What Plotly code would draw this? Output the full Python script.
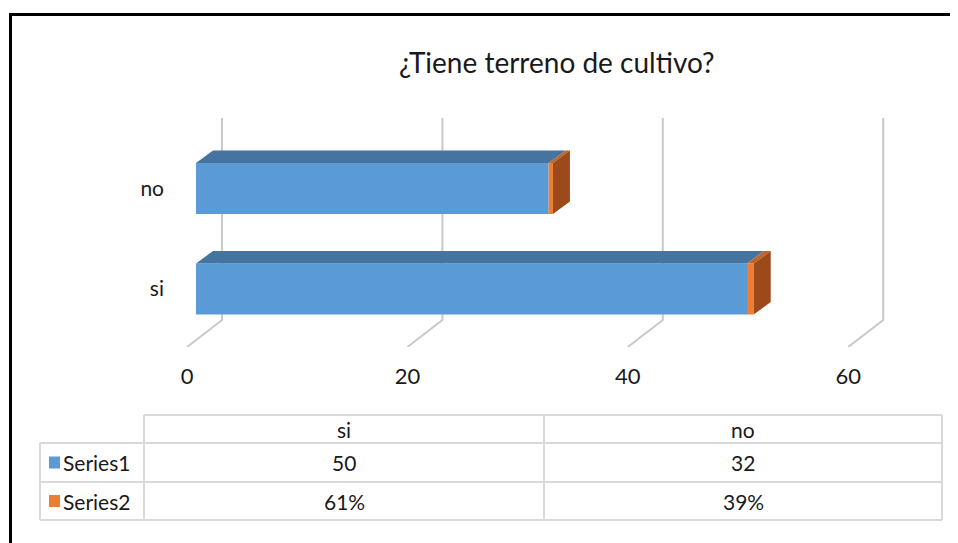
"""Excel-style 3D stacked bar chart with a data table underneath"""

import plotly.graph_objects as go

TITLE = "¿Tiene terreno de cultivo?"
CATEGORIES = ["si", "no"]
SERIES_NAMES = ["Series1", "Series2"]
SERIES1 = [50, 32]
SERIES2 = [0.61, 0.39]
X_TICKS = [0, 20, 40, 60]

W, H = 958, 543
PAGE_PAD = 8                         # default body margin of the html page
FONT = "Lato, 'Open Sans', sans-serif"
TEXT = "#1a1a1a"
GRID = "#c9c9c9"
TABLE_LINE = "#d9d9d9"
BLUE, BLUE_TOP = "#5b9bd5", "#44749f"
ORANGE, ORANGE_TOP, ORANGE_SIDE = "#ed7d31", "#c0652a", "#9c4a1b"

# plot box in pixels, and how the axes map onto it
PLOT_L, PLOT_R, PLOT_T, PLOT_B = 175, 940, 110, 347
X0_PX, PX_PER_UNIT = 187, 11.02      # floor front edge: value 0 and scale
Y0_PX, PX_PER_CAT = 289, 100.5       # centre of first category, spacing


def xv(px):
    return (px - X0_PX) / PX_PER_UNIT


def yv(py):
    return (Y0_PX - py) / PX_PER_CAT


def fx(px):
    return (px - PAGE_PAD) / W


def fy(py):
    return 1 - (py - PAGE_PAD) / H


BAR_SHIFT = xv(196)             # bars sit a bit into the depth of the floor
BAR_W = 51 / PX_PER_CAT
DEPTH_DX, DEPTH_DY = 17 / PX_PER_UNIT, 12.5 / PX_PER_CAT
GRID_DX = xv(222)               # back wall offset
WALL_TOP, WALL_FLOOR, FLOOR_FRONT = yv(118), yv(320), yv(PLOT_B)

ypos = list(range(len(CATEGORIES)))

fig = go.Figure()
fig.add_trace(
    go.Bar(
        y=ypos, x=SERIES1, base=[BAR_SHIFT] * len(SERIES1),
        orientation="h", width=BAR_W, name=SERIES_NAMES[0],
        marker=dict(color=BLUE, line=dict(width=0)),
    )
)
fig.add_trace(
    go.Bar(
        y=ypos, x=SERIES2, base=[BAR_SHIFT + v for v in SERIES1],
        orientation="h", width=BAR_W, name=SERIES_NAMES[1],
        marker=dict(color=ORANGE, line=dict(width=0)),
    )
)

shapes = []
# back wall gridlines bending onto the floor
for t in X_TICKS:
    gx = t + GRID_DX
    shapes.append(dict(
        type="path", xref="x", yref="y", layer="below",
        path=f"M {gx},{WALL_TOP} L {gx},{WALL_FLOOR} L {t},{FLOOR_FRONT}",
        line=dict(color=GRID, width=2),
    ))

# top and side faces of the bars
for u, a, b in zip(ypos, SERIES1, SERIES2):
    yt = u + BAR_W / 2
    yb = u - BAR_W / 2
    segs = [(BAR_SHIFT, BAR_SHIFT + a, BLUE_TOP),
            (BAR_SHIFT + a, BAR_SHIFT + a + b, ORANGE_TOP)]
    for x0, x1, col in segs:
        shapes.append(dict(
            type="path", xref="x", yref="y",
            path=(f"M {x0},{yt} L {x1},{yt} L {x1 + DEPTH_DX},{yt + DEPTH_DY} "
                  f"L {x0 + DEPTH_DX},{yt + DEPTH_DY} Z"),
            fillcolor=col, line=dict(width=0),
        ))
    xe = BAR_SHIFT + a + b
    shapes.append(dict(
        type="path", xref="x", yref="y",
        path=(f"M {xe},{yb} L {xe},{yt} L {xe + DEPTH_DX},{yt + DEPTH_DY} "
              f"L {xe + DEPTH_DX},{yb + DEPTH_DY} Z"),
        fillcolor=ORANGE_SIDE, line=dict(width=0),
    ))

# data table
COLS = [40, 144, 544, 942]
ROWS = [415, 443, 482, 520]


def pline(x0, y0, x1, y1, color=TABLE_LINE, width=2):
    return dict(type="line", xref="paper", yref="paper",
                x0=fx(x0), y0=fy(y0), x1=fx(x1), y1=fy(y1),
                line=dict(color=color, width=width))


shapes.append(pline(COLS[1], ROWS[0], COLS[3], ROWS[0]))
for r in ROWS[1:]:
    shapes.append(pline(COLS[0], r, COLS[3], r))
shapes.append(pline(COLS[0], ROWS[1], COLS[0], ROWS[3]))
for c in COLS[1:]:
    shapes.append(pline(c, ROWS[0], c, ROWS[3]))

annotations = [dict(
    text=TITLE, x=fx(557), y=fy(62), xref="paper", yref="paper",
    showarrow=False, xanchor="center", yanchor="middle",
    font=dict(family=FONT, size=28, color=TEXT),
)]


def cell(text, x, y, anchor="center"):
    return dict(text=text, x=fx(x), y=fy(y), xref="paper", yref="paper",
                showarrow=False, xanchor=anchor, yanchor="middle",
                font=dict(family=FONT, size=21, color=TEXT))


col_mid = [(COLS[i] + COLS[i + 1]) / 2 for i in range(1, 3)]
row_mid = [(ROWS[i] + ROWS[i + 1]) / 2 for i in range(3)]
for cx, cat in zip(col_mid, CATEGORIES):
    annotations.append(cell(cat, cx, row_mid[0]))
for cx, v in zip(col_mid, SERIES1):
    annotations.append(cell(f"{v}", cx, row_mid[1]))
for cx, v in zip(col_mid, SERIES2):
    annotations.append(cell(f"{v:.0%}", cx, row_mid[2]))
for ry, name, col in zip(row_mid[1:], SERIES_NAMES, [BLUE, ORANGE]):
    shapes.append(dict(type="rect", xref="paper", yref="paper",
                       x0=fx(49), x1=fx(60), y0=fy(ry + 6), y1=fy(ry - 6),
                       fillcolor=col, line=dict(width=0)))
    annotations.append(cell(name, 61, ry, anchor="left"))

# chart frame, cut off at the right and bottom like the reference
shapes.append(dict(type="path", xref="paper", yref="paper",
                   path=f"M {fx(10.5)},-0.1 L {fx(10.5)},{fy(14.5)} L 1.1,{fy(14.5)}",
                   line=dict(color="black", width=3)))

fig.update_layout(
    width=W, height=H, autosize=False,
    margin=dict(l=0, r=0, t=0, b=0),
    paper_bgcolor="white", plot_bgcolor="rgba(0,0,0,0)",
    barmode="overlay", showlegend=False,
    font=dict(family=FONT, size=21, color=TEXT),
    xaxis=dict(
        domain=[fx(PLOT_L), fx(PLOT_R)], range=[xv(PLOT_L), xv(PLOT_R)],
        tickvals=X_TICKS, showgrid=False, zeroline=False, showline=False,
        ticks="", ticklabelstandoff=14, tickfont=dict(size=22),
    ),
    yaxis=dict(
        domain=[fy(PLOT_B), fy(PLOT_T)], range=[yv(PLOT_B), yv(PLOT_T)],
        tickvals=ypos, ticktext=CATEGORIES, showgrid=False, zeroline=False,
        showline=False, ticks="", ticklabelstandoff=10, tickfont=dict(size=21),
    ),
    shapes=shapes,
    annotations=annotations,
)

fig.write_html("out.html")
